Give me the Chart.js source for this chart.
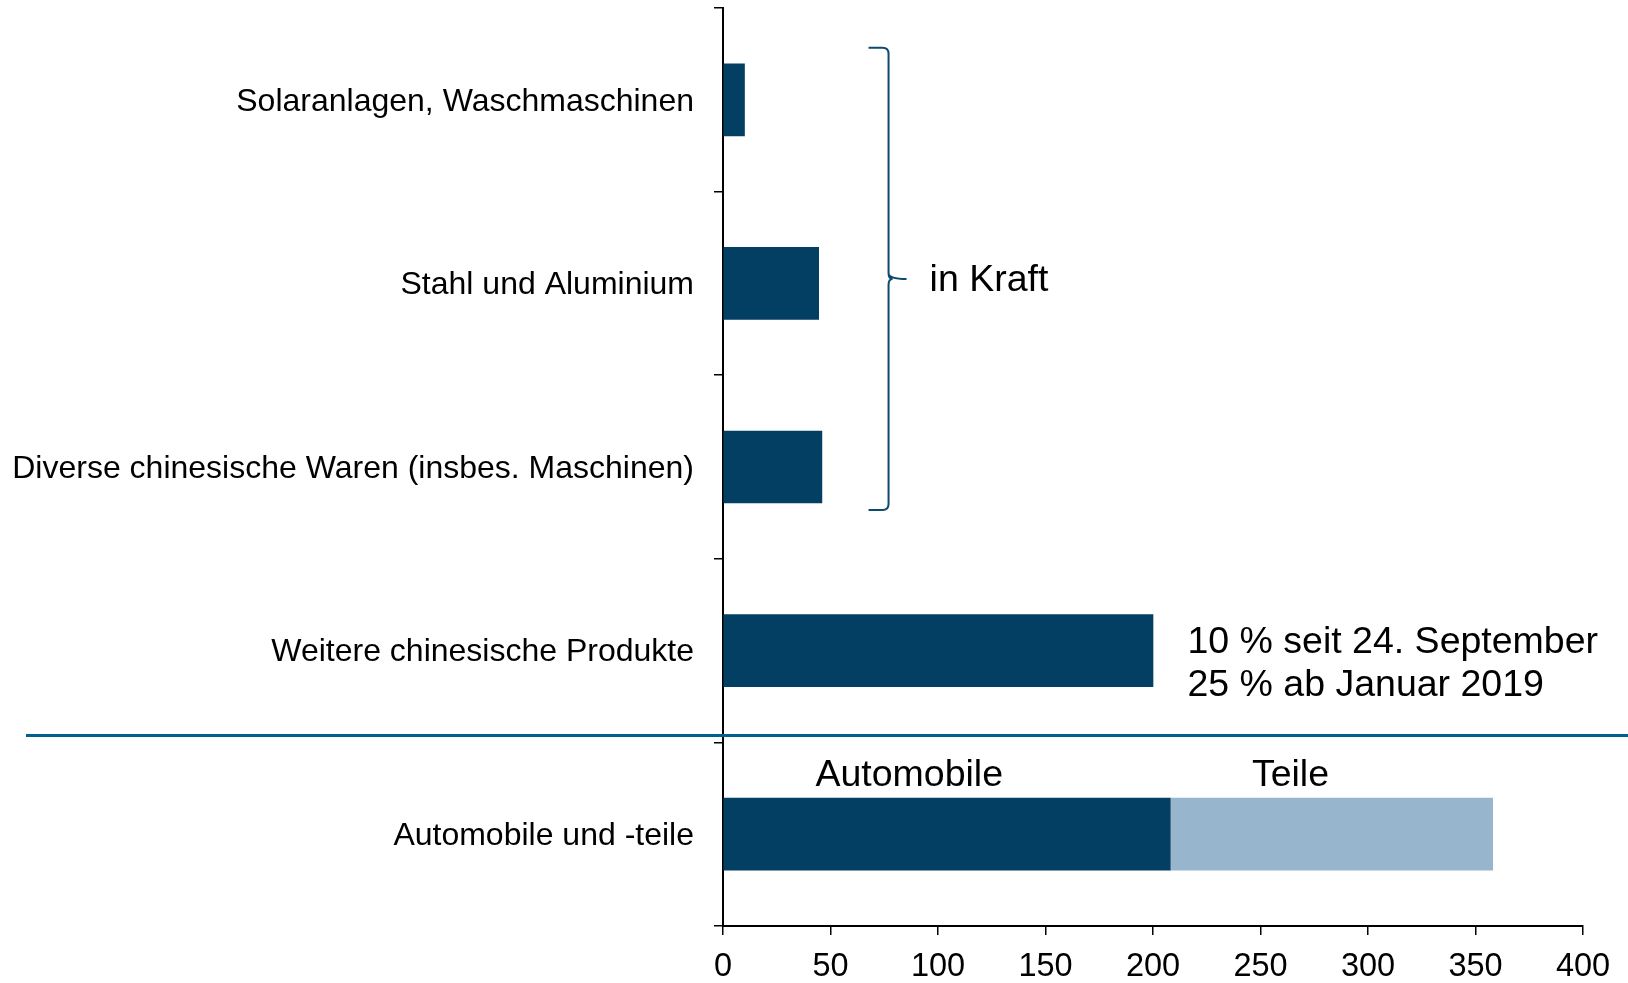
<!DOCTYPE html>
<html lang="de">
<head>
  <meta charset="UTF-8">
  <title>US-Zölle</title>
  <script src="https://cdn.jsdelivr.net/npm/chart.js"></script>
  <style>
    html, body { margin: 0; padding: 0; background: #fff; }
    canvas { display: block; }
  </style>
</head>
<body>
  <canvas id="grafik" width="1628" height="983"></canvas>

  <script>
    // Daten
    const kategorien = [
      "Solaranlagen, Waschmaschinen",
      "Stahl und Aluminium",
      "Diverse chinesische Waren (insbes. Maschinen)",
      "Weitere chinesische Produkte",
      "Automobile und -teile"
    ];
    const werteDunkel = [10, 44.5, 46, 200, 208];
    const werteHell = [null, null, null, null, 150];
    const achseMax = 400;
    const achseSchritt = 50;

    const dunkel = "#023f62";
    const hell = "#97b5cc";
    const schrift = "'Liberation Sans', Arial, sans-serif";

    // Klammer, Trennlinie und Beschriftungen
    const notizen = {
      id: "notizen",
      afterDraw(chart) {
        const c = chart.ctx;
        const x = chart.scales.x;
        const y = chart.scales.y;
        const balken = chart.getDatasetMeta(0).data;

        // Trennlinie zwischen "in Kraft"/geplant
        const yTrenn = (y.getPixelForValue(3) + y.getPixelForValue(4)) / 2 - 7;
        c.save();
        c.strokeStyle = "#00608f";
        c.lineWidth = 3;
        c.beginPath();
        c.moveTo(26, yTrenn);
        c.lineTo(chart.width, yTrenn);
        c.stroke();

        // geschweifte Klammer
        const oben = balken[0].y - balken[0].height / 2 - 16;
        const unten = balken[2].y + balken[2].height / 2 + 7;
        const mitte = (oben + unten) / 2;
        const bx = x.getPixelForValue(77);
        c.strokeStyle = "#0d4a70";
        c.lineWidth = 2;
        c.beginPath();
        c.moveTo(bx - 20, oben);
        c.lineTo(bx - 6, oben);
        c.quadraticCurveTo(bx, oben, bx, oben + 6);
        c.lineTo(bx, mitte - 6);
        c.quadraticCurveTo(bx, mitte, bx + 18, mitte);
        c.moveTo(bx, mitte - 6);
        c.quadraticCurveTo(bx, mitte, bx + 4, mitte);
        c.quadraticCurveTo(bx, mitte, bx, mitte + 6);
        c.lineTo(bx, unten - 6);
        c.quadraticCurveTo(bx, unten, bx - 6, unten);
        c.lineTo(bx - 20, unten);
        c.stroke();

        c.fillStyle = "#000";
        c.font = "37.5px " + schrift;
        c.textAlign = "left";
        c.textBaseline = "middle";
        c.fillText("in Kraft", bx + 41, mitte + 2);

        // Text neben "Weitere chinesische Produkte"
        const yW = balken[3].y;
        const xW = x.getPixelForValue(216);
        c.fillText("10 % seit 24. September", xW, yW - 8);
        c.fillText("25 % ab Januar 2019", xW, yW + 35);

        // Beschriftung über dem Automobil-Balken
        const yA = balken[4].y - balken[4].height / 2 - 23;
        c.fillText("Automobile", x.getPixelForValue(43), yA);
        c.fillText("Teile", x.getPixelForValue(246), yA);
        c.restore();
      }
    };

    const ctx = document.getElementById("grafik").getContext("2d");
    new Chart(ctx, {
      type: "bar",
      data: {
        labels: kategorien,
        datasets: [
          {
            label: "Automobile",
            data: werteDunkel,
            backgroundColor: dunkel,
            barThickness: 72
          },
          {
            label: "Teile",
            data: werteHell,
            backgroundColor: hell,
            barThickness: 72
          }
        ]
      },
      options: {
        indexAxis: "y",
        responsive: false,
        animation: false,
        layout: { padding: { top: 8, right: 45, left: 0, bottom: 0 } },
        plugins: {
          legend: { display: false },
          tooltip: { enabled: false }
        },
        scales: {
          x: {
            stacked: true,
            min: 0,
            max: achseMax,
            ticks: {
              stepSize: achseSchritt,
              color: "#000",
              padding: 13,
              maxRotation: 0,
              font: { family: schrift, size: 32.5 }
            },
            grid: {
              drawOnChartArea: false,
              drawTicks: true,
              tickLength: 9,
              color: "#000",
              lineWidth: 1.5
            },
            border: { display: true, color: "#000", width: 2 },
            afterFit(s) { s.height = 57; }
          },
          y: {
            stacked: true,
            ticks: {
              color: "#000",
              padding: 20,
              labelOffset: 2,
              font: { family: schrift, size: 32 }
            },
            grid: {
              offset: true,
              drawOnChartArea: false,
              drawTicks: true,
              tickLength: 9,
              color: "#000",
              lineWidth: 1.5
            },
            border: { display: true, color: "#000", width: 2 },
            afterFit(s) {
              s.width = 723;
              s.paddingTop = 0;
              s.paddingBottom = 0;
            }
          }
        }
      },
      plugins: [notizen]
    });
  </script>
</body>
</html>
